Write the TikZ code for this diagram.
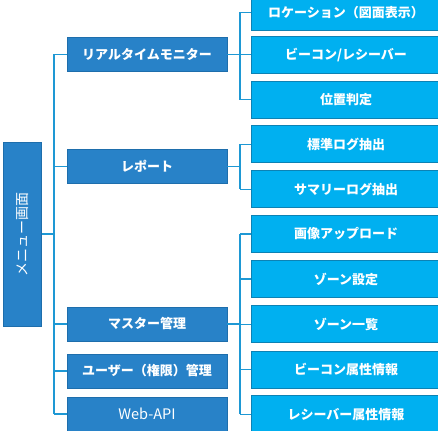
\documentclass[tikz,border=0pt]{standalone}
\usepackage{fontspec}
\setmainfont{Noto Sans CJK JP}
\definecolor{lonefill}{RGB}{40,130,200}
\definecolor{loneborder}{RGB}{30,110,172}
\definecolor{ltwofill}{RGB}{0,176,240}
\definecolor{ltwoborder}{RGB}{12,130,180}
\definecolor{conn}{RGB}{30,152,212}
\tikzset{
  rootbox/.style={draw=loneborder, fill=lonefill, line width=0.8pt, minimum width=38.5pt, minimum height=183.7pt, inner sep=0pt, text=white, font=\fontsize{14}{16}\selectfont},
  lonebox/.style={draw=loneborder, fill=lonefill, line width=0.8pt, minimum width=160pt, minimum height=34pt, inner sep=0pt, text=white, font=\bfseries\fontsize{13}{15}\selectfont},
  ltwobox/.style={draw=ltwoborder, fill=ltwofill, line width=1pt, minimum width=190pt, minimum height=37pt, inner sep=0pt, text=white, font=\bfseries\fontsize{13}{15}\selectfont},
  link/.style={draw=conn, line width=1.5pt}
}
\begin{document}
\begin{tikzpicture}[x=1pt,y=-1pt]
\useasboundingbox (0,0) rectangle (438,430);
\clip (0,0) rectangle (438,430);
% root
\node[rootbox] (root) at (22.25,234.2) {\rotatebox{90}{メニュー画面}};
% level 1
\node[lonebox] (rtm) at (147,54.5) {リアルタイムモニター};
\node[lonebox] (rep) at (147,166.7) {レポート};
\node[lonebox] (mas) at (147,324) {マスター管理};
\node[lonebox] (usr) at (147,371) {ユーザー（権限）管理};
\node[lonebox, font=\fontsize{14.5}{16}\selectfont] (api) at (147,414) {Web-API};
% level 2
\node[ltwobox, minimum height=36pt] (loc) at (346,12.5) {ロケーション（図面表示）};
\node[ltwobox] (bea) at (346,54.7) {ビーコン/レシーバー};
\node[ltwobox] (pos) at (346,99.7) {位置判定};
\node[ltwobox] (std) at (346,144.3) {標準ログ抽出};
\node[ltwobox] (sum) at (346,189.3) {サマリーログ抽出};
\node[ltwobox] (img) at (346,234) {画像アップロード};
\node[ltwobox] (zset) at (346,279) {ゾーン設定};
\node[ltwobox] (zlist) at (346,324.3) {ゾーン一覧};
\node[ltwobox] (battr) at (346,369.7) {ビーコン属性情報};
\node[ltwobox] (rattr) at (346,414.3) {レシーバー属性情報};
% trunk coordinates
\coordinate (t0) at (54,0);
\coordinate (t1) at (240,0);
% root connectors
\draw[link] (root.east) -- (root.east -| t0);
\draw[link] (rtm.west -| t0) -- (api.west -| t0);
\foreach \n in {rtm,rep,mas,usr,api} \draw[link] (\n.west -| t0) -- (\n.west);
% group 1
\draw[link] (rtm.east) -- (rtm.east -| t1);
\draw[link] (loc.west -| t1) -- (pos.west -| t1);
\foreach \n in {loc,bea,pos} \draw[link] (\n.west -| t1) -- (\n.west);
% group 2
\draw[link] (rep.east) -- (rep.east -| t1);
\draw[link] (std.west -| t1) -- (sum.west -| t1);
\foreach \n in {std,sum} \draw[link] (\n.west -| t1) -- (\n.west);
% group 3
\draw[link] (mas.east) -- (mas.east -| t1);
\draw[link] (img.west -| t1) -- (rattr.west -| t1);
\foreach \n in {img,zset,zlist,battr,rattr} \draw[link] (\n.west -| t1) -- (\n.west);
\end{tikzpicture}
\end{document}
